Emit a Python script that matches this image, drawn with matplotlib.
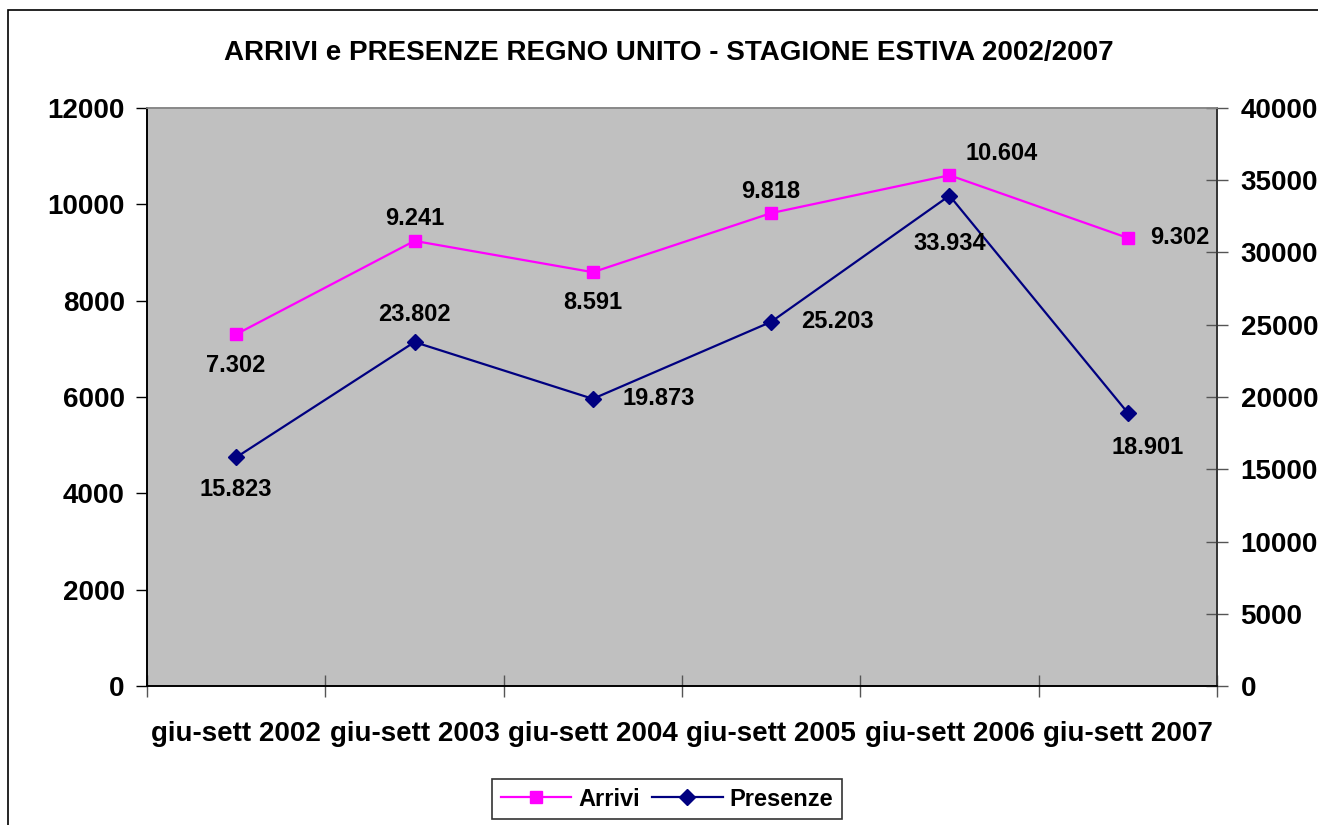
import matplotlib.pyplot as plt
from matplotlib.patches import Rectangle

# data
periodi = ["giu-sett 2002", "giu-sett 2003", "giu-sett 2004",
           "giu-sett 2005", "giu-sett 2006", "giu-sett 2007"]
arrivi = [7302, 9241, 8591, 9818, 10604, 9302]
presenze = [15823, 23802, 19873, 25203, 33934, 18901]
arrivi_lbl = ["7.302", "9.241", "8.591", "9.818", "10.604", "9.302"]
presenze_lbl = ["15.823", "23.802", "19.873", "25.203", "33.934", "18.901"]

plt.rcParams['font.family'] = ['Liberation Sans', 'DejaVu Sans']
plt.rcParams['font.weight'] = 'bold'

fig = plt.figure(figsize=(13.18, 8.25), dpi=100)
ax = fig.add_axes([147/1318, 1 - 686/825, (1217 - 147)/1318, (686 - 108)/825])
ax2 = ax.twinx()

ax.set_facecolor('#C0C0C0')
x = list(range(len(periodi)))

l1, = ax.plot(x, arrivi, color='#FF00FF', marker='s', markersize=9, lw=1.6,
              label='Arrivi', zorder=3)
l2, = ax2.plot(x, presenze, color='#000080', marker='D', markersize=8, lw=1.6,
               label='Presenze', zorder=3)

# label offsets in pixels
off_a = [(0, -31), (0, 22), (0, -30), (0, 22), (52, 22), (52, 0)]
off_p = [(0, -32), (0, 28), (66, 0), (66, 0), (0, -48), (20, -35)]
for i in x:
    ax.annotate(arrivi_lbl[i], (x[i], arrivi[i]), xytext=off_a[i],
                textcoords='offset pixels', ha='center', va='center',
                fontsize=17, fontweight='bold', zorder=5)
    ax2.annotate(presenze_lbl[i], (x[i], presenze[i]), xytext=off_p[i],
                 textcoords='offset pixels', ha='center', va='center',
                 fontsize=17, fontweight='bold', zorder=5)

ax.set_xlim(-0.5, 5.5)
ax.set_ylim(0, 12000)
ax2.set_ylim(0, 40000)
ax.set_yticks(range(0, 12001, 2000))
ax2.set_yticks(range(0, 40001, 5000))

ax.set_xticks(x)
ax.set_xticklabels(periodi)
ax.set_xticks([i - 0.5 for i in range(7)], minor=True)
ax.tick_params(axis='x', which='major', length=0, pad=25, labelsize=20)
ax.tick_params(axis='x', which='minor', direction='inout', length=16,
               width=1, color='#555555')
ax.tick_params(axis='y', direction='out', length=8, width=1, labelsize=20,
               pad=8)
ax2.tick_params(axis='y', direction='inout', length=16, width=1,
                color='#555555', labelsize=20, pad=9)

for a in (ax, ax2):
    a.spines['top'].set_color('#888888')
    a.spines['left'].set_color('black')
    a.spines['bottom'].set_color('black')
    a.spines['right'].set_color('#333333')
    for s in a.spines.values():
        s.set_linewidth(1.2)

fig.text(669/1318, 1 - 53/825, "ARRIVI e PRESENZE REGNO UNITO - STAGIONE ESTIVA 2002/2007",
         ha='center', va='center', fontsize=20, fontweight='bold')

leg = fig.legend([l1, l2], ['Arrivi', 'Presenze'], loc='center', ncol=2,
                 bbox_to_anchor=(667/1318, 1 - 799/825), frameon=True,
                 fancybox=False, edgecolor='black', fontsize=17,
                 handlelength=3.0, columnspacing=0.5, handletextpad=0.3,
                 borderpad=0.35)
leg.get_frame().set_linewidth(1.2)

# outer chart frame, right and bottom edges fall outside the image
fig.patches.append(Rectangle((8/1318, -0.1), 1.1, 1.1 - 10/825,
                             transform=fig.transFigure, fill=False,
                             edgecolor='black', lw=1.2))

fig.savefig('out.png', dpi=100)
